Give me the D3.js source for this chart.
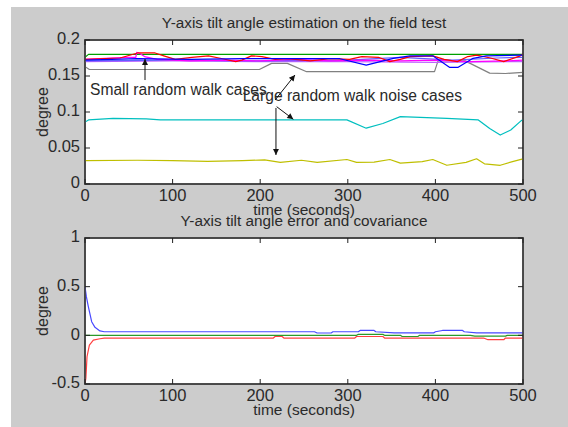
<!DOCTYPE html>
<html>
<head>
<meta charset="utf-8">
<script src="https://cdn.jsdelivr.net/npm/d3@7"></script>
<style>
  html, body { margin: 0; padding: 0; background: #fff; }
  svg text { font-family: "Liberation Sans", Arial, Helvetica, sans-serif; fill: #2a2a2a; }
  .frame { fill: #fff; stroke: #404040; stroke-width: 1.5; }
  .tick-mark { stroke: #222; stroke-width: 1; }
  .series { fill: none; stroke-width: 1.2; stroke-linejoin: round; }
  .arrow { stroke: #111; stroke-width: 1; }
</style>
</head>
<body>
<div class="interactive-wrapper"></div>
<script>
// ---- data (time in seconds, value in degrees) ----
const xTicks = [0, 100, 200, 300, 400, 500];
const topYTicks = [0, 0.05, 0.1, 0.15, 0.2];
const botYTicks = [-0.5, 0, 0.5, 1];

const topTitle = "Y-axis tilt angle estimation on the field test";
const botTitle = "Y-axis tilt angle error and covariance";

const greenTop = [[0,0.176],[4,0.180],[500,0.180]];
const grayTop = [[0,0.163],[5,0.159],[199,0.159],[213,0.1675],[231,0.1675],[253,0.156],[399,0.156],[403,0.171],[434,0.171],[462,0.154],[480,0.1535],[500,0.155]];
const redTop = [[0,0.173],[40,0.175],[60,0.182],[80,0.182],[90,0.178],[103,0.173],[122,0.176],[141,0.178],[157,0.174],[172,0.170],[179,0.172],[190,0.178],[202,0.177],[217,0.173],[232,0.174],[257,0.171],[280,0.174],[302,0.173],[316,0.177],[335,0.176],[348,0.170],[360,0.173],[371,0.177],[397,0.178],[410,0.173],[425,0.170],[437,0.177],[447,0.179],[463,0.175],[478,0.170],[497,0.178],[500,0.181]];
const magentaTop = [[0,0.173],[47,0.176],[58,0.176],[59,0.183],[63,0.181],[68,0.177],[82,0.173],[120,0.171],[160,0.172],[200,0.171],[240,0.173],[280,0.171],[320,0.172],[360,0.171],[400,0.172],[440,0.170],[480,0.171],[500,0.172]];
const blueTop = [[0,0.172],[60,0.174],[120,0.173],[180,0.174],[245,0.174],[291,0.174],[321,0.165],[352,0.1745],[371,0.178],[397,0.178],[416,0.162],[426,0.162],[443,0.1745],[458,0.178],[500,0.179]];
const blue2Top = [[0,0.171],[100,0.172],[200,0.171],[300,0.172],[360,0.176],[420,0.172],[470,0.175],[500,0.176]];
const purpleTop = [[0,0.170],[100,0.171],[200,0.170],[300,0.170],[400,0.169],[500,0.170]];
const cyanTop = [[0,0.086],[4,0.089],[32,0.0912],[70,0.0905],[86,0.089],[200,0.089],[299,0.089],[321,0.0775],[340,0.084],[360,0.0935],[413,0.0912],[449,0.089],[462,0.077],[474,0.068],[486,0.075],[498,0.088],[500,0.089]];
const yellowTop = [[0,0.0324],[60,0.0330],[100,0.0325],[140,0.0315],[180,0.0325],[205,0.0335],[223,0.0300],[247,0.0330],[265,0.0300],[299,0.0340],[310,0.0300],[330,0.0305],[348,0.0340],[360,0.0290],[385,0.0310],[397,0.0340],[413,0.0260],[435,0.0300],[447,0.0350],[456,0.0280],[474,0.0260],[488,0.0310],[500,0.0350]];

const blueBot = [[0,0.50],[1.5,0.40],[3.8,0.294],[7.6,0.14],[11.4,0.082],[17,0.045],[22,0.037],[262,0.037],[265,0.024],[281,0.024],[283,0.037],[312,0.037],[314,0.05],[330,0.05],[332,0.037],[353,0.025],[398,0.025],[400,0.037],[408,0.05],[431,0.05],[433,0.037],[447,0.025],[500,0.025]];
const greenBot = [[0,0],[310,0],[312,0.01],[340,0.01],[342,0],[360,0],[362,-0.012],[380,-0.012],[382,0],[440,0],[445,-0.008],[480,-0.008],[482,0],[500,0]];
const redBot = [[0,-0.50],[1,-0.44],[2.3,-0.22],[5,-0.10],[9.5,-0.05],[17,-0.035],[22,-0.028],[215,-0.028],[217,-0.012],[225,-0.012],[227,-0.028],[308,-0.028],[310,-0.012],[340,-0.012],[342,-0.028],[455,-0.028],[460,-0.045],[478,-0.045],[480,-0.028],[500,-0.028]];

const topSeries = [
  {pts: grayTop, color: "#808080"},
  {pts: greenTop, color: "#00a000"},
  {pts: purpleTop, color: "#c060ff"},
  {pts: blue2Top, color: "#6060ff"},
  {pts: magentaTop, color: "#ff00ff"},
  {pts: redTop, color: "#ff0000"},
  {pts: blueTop, color: "#0000ff"},
  {pts: cyanTop, color: "#00bfbf"},
  {pts: yellowTop, color: "#bfbf00"}
];
const botSeries = [
  {pts: greenBot, color: "#2a9a2a"},
  {pts: blueBot, color: "#4848ff"},
  {pts: redBot, color: "#ff4040"}
];

// annotations in data coordinates
const smallLabel = {text: "Small random walk cases", t: 5.7, v: 0.129};
const largeLabel = {text: "Large random walk noise cases", t: 180, v: 0.121};
const arrows = [
  {from: [68.5, 0.1444], to: [68.5, 0.1736]},
  {from: [217, 0.1167], to: [239.7, 0.1514]},
  {from: [218.8, 0.1074], to: [237.8, 0.0899]},
  {from: [218, 0.1056], to: [218, 0.0403]}
];

// ---- layout ----
const W = 568, H = 427;
const left = 85, right = 523;
const topPanel = {y0: 40, y1: 184};
const botPanel = {y0: 238, y1: 384};

const svg = d3.select(".interactive-wrapper").append("svg")
  .attr("width", W).attr("height", H);

svg.append("rect").attr("x", 11).attr("y", 7).attr("width", W - 11).attr("height", H - 7).attr("fill", "#cccccc");

const defs = svg.append("defs");
defs.append("marker")
  .attr("id", "head").attr("viewBox", "0 0 10 10")
  .attr("refX", 10).attr("refY", 5)
  .attr("markerWidth", 10).attr("markerHeight", 6)
  .attr("markerUnits", "userSpaceOnUse")
  .attr("orient", "auto")
  .append("path").attr("d", "M0,0 L10,5 L0,10 Z").attr("fill", "#111");

function drawPanel(panel, yDomain, yTicks, title, series, clipId) {
  const x = d3.scaleLinear().domain([0, 500]).range([left, right]);
  const y = d3.scaleLinear().domain(yDomain).range([panel.y1, panel.y0]);
  const g = svg.append("g");

  g.append("rect").attr("class", "frame")
    .attr("x", left).attr("y", panel.y0)
    .attr("width", right - left).attr("height", panel.y1 - panel.y0);

  defs.append("clipPath").attr("id", clipId)
    .append("rect").attr("x", left).attr("y", panel.y0 - 1)
    .attr("width", right - left).attr("height", panel.y1 - panel.y0 + 2);

  const line = d3.line().x(d => x(d[0])).y(d => y(d[1]));
  const lines = g.append("g").attr("clip-path", "url(#" + clipId + ")");
  series.forEach(s => {
    lines.append("path").attr("class", "series")
      .attr("stroke", s.color).attr("d", line(s.pts));
  });

  // frame on top of lines
  g.append("rect").attr("x", left).attr("y", panel.y0)
    .attr("width", right - left).attr("height", panel.y1 - panel.y0)
    .attr("fill", "none").attr("stroke", "#404040").attr("stroke-width", 1.5);

  const tl = 5;
  xTicks.forEach(t => {
    g.append("line").attr("class", "tick-mark")
      .attr("x1", x(t)).attr("x2", x(t)).attr("y1", panel.y1).attr("y2", panel.y1 - tl);
    g.append("line").attr("class", "tick-mark")
      .attr("x1", x(t)).attr("x2", x(t)).attr("y1", panel.y0).attr("y2", panel.y0 + tl);
    g.append("text").attr("x", x(t)).attr("y", panel.y1 + 13)
      .attr("text-anchor", "middle").attr("dominant-baseline", "middle")
      .style("font-size", "16.5px").text(t);
  });
  yTicks.forEach(v => {
    g.append("line").attr("class", "tick-mark")
      .attr("x1", left).attr("x2", left + tl).attr("y1", y(v)).attr("y2", y(v));
    g.append("line").attr("class", "tick-mark")
      .attr("x1", right).attr("x2", right - tl).attr("y1", y(v)).attr("y2", y(v));
    g.append("text").attr("x", left - 5).attr("y", y(v))
      .attr("text-anchor", "end").attr("dominant-baseline", "middle")
      .style("font-size", "16.5px").text(v);
  });

  g.append("text").attr("x", (left + right) / 2).attr("y", panel.y1 + 27)
    .attr("text-anchor", "middle").attr("dominant-baseline", "middle")
    .style("font-size", "15.5px").text("time (seconds)");
  g.append("text").attr("transform", "translate(44," + ((panel.y0 + panel.y1) / 2) + ") rotate(-90)")
    .attr("text-anchor", "middle").attr("dominant-baseline", "middle")
    .style("font-size", "16px").text("degree");
  g.append("text").attr("x", (left + right) / 2).attr("y", panel.y0 - 16)
    .attr("text-anchor", "middle").attr("dominant-baseline", "middle")
    .style("font-size", "15.3px").text(title);

  return {x, y, g};
}

const topAx = drawPanel(topPanel, [0, 0.2], topYTicks, topTitle, topSeries, "clipTop");
drawPanel(botPanel, [-0.5, 1], botYTicks, botTitle, botSeries, "clipBot");

// annotations on the top panel
[smallLabel, largeLabel].forEach(l => {
  topAx.g.append("text").attr("x", topAx.x(l.t)).attr("y", topAx.y(l.v))
    .attr("dominant-baseline", "middle")
    .style("font-size", "15.6px").text(l.text);
});
arrows.forEach(a => {
  topAx.g.append("line").attr("class", "arrow")
    .attr("x1", topAx.x(a.from[0])).attr("y1", topAx.y(a.from[1]))
    .attr("x2", topAx.x(a.to[0])).attr("y2", topAx.y(a.to[1]))
    .attr("marker-end", "url(#head)");
});
</script>
</body>
</html>
